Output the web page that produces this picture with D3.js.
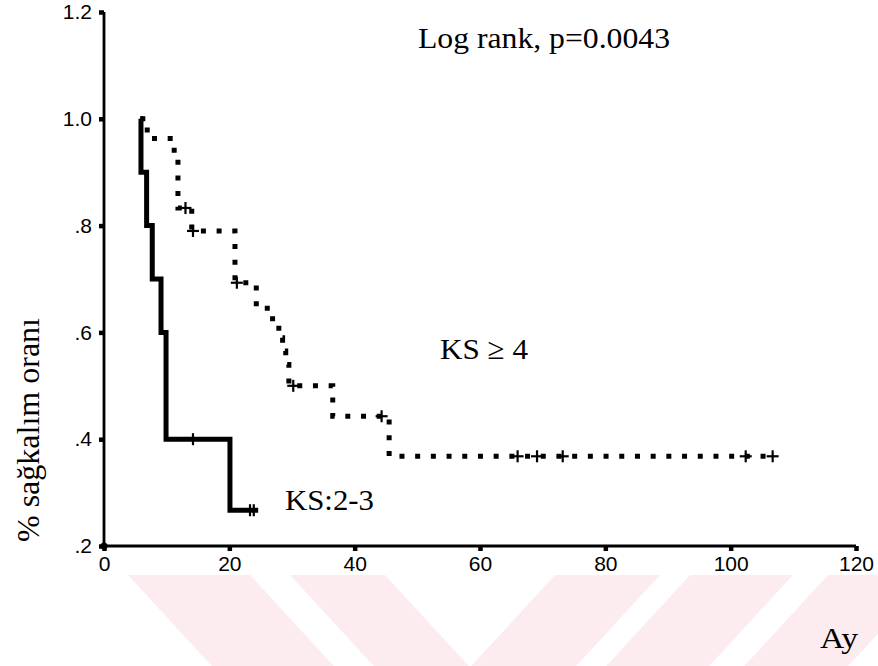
<!DOCTYPE html>
<html>
<head>
<meta charset="utf-8">
<script src="https://cdn.jsdelivr.net/npm/d3@7/dist/d3.min.js"></script>
<style>
  html, body { margin: 0; padding: 0; background: #fff; }
  svg { display: block; }
</style>
</head>
<body>
<script>
// ---------------- DATA ----------------
// KS:2-3 group (solid line): step times (months) and survival after each step
const solidStart = 5.8;
const solidTimes = [5.9, 6.8, 7.7, 9.1, 9.9, 20.1];
const solidSurv  = [0.9, 0.8, 0.7, 0.6, 0.4, 0.267];
const solidEnd = 24.6;
const solidCensored = [14.2, 23.3, 23.9];

// KS >= 4 group (dotted line)
const dotStart = 5.8;
const dotTimes = [6.9, 11.2, 11.8, 14.0, 20.9, 24.3, 26.9, 27.9, 28.5, 29.0, 29.5, 36.5, 45.5];
const dotSurv  = [0.963, 0.926, 0.833, 0.79, 0.693, 0.645, 0.617, 0.59, 0.565, 0.54, 0.50, 0.443, 0.368];
const dotEnd = 107.0;
const dotCensored = [13.0, 14.2, 21.2, 30.2, 44.3, 66.0, 69.1, 73.2, 102.4, 106.7];

const xTicks = [0, 20, 40, 60, 80, 100, 120];
const yTicks = [0.2, 0.4, 0.6, 0.8, 1.0, 1.2];
const yTickLabels = [".2", ".4", ".6", ".8", "1.0", "1.2"];

const yTitle = "% sağkalım oranı";
const xTitle = "Ay";
const testText = "Log rank, p=0.0043";
const labelHigh = "KS ≥ 4";
const labelLow = "KS:2-3";

// ---------------- DRAW ----------------
(function () {
const W = 878, H = 666;
const svg = d3.select("body").append("svg").attr("width", W).attr("height", H);

// watermark background (light pink diagonal bands)
const clip = svg.append("clipPath").attr("id", "wmclip");
clip.append("rect").attr("x", 0).attr("y", 575).attr("width", W).attr("height", H - 575);
const bTop = 575, bBot = H, bdy = bBot - bTop, kk = 0.92;
const leftBands = [[128, 250], [290, 385]];
const rightBands = [[555, 660], [690, 793], [828, 932]];
const bandG = svg.append("g").attr("clip-path", "url(#wmclip)");
leftBands.forEach(([a, b]) => {
  bandG.append("polygon")
    .attr("points", [[a, bTop], [b, bTop], [b + kk * bdy, bBot], [a + kk * bdy, bBot]].map(p => p.join(",")).join(" "))
    .attr("fill", "#fdecef");
});
rightBands.forEach(([a, b]) => {
  bandG.append("polygon")
    .attr("points", [[a, bTop], [b, bTop], [b - kk * bdy, bBot], [a - kk * bdy, bBot]].map(p => p.join(",")).join(" "))
    .attr("fill", "#fdecef");
});

const x = d3.scaleLinear().domain([0, 120]).range([104, 856]);
const y = d3.scaleLinear().domain([0.2, 1.2]).range([546, 12]);

// axes
const xAxis = d3.axisBottom(x).tickValues(xTicks).tickSize(5).tickPadding(5).tickFormat(d3.format("d"));
const gx = svg.append("g").attr("transform", `translate(0,${y(0.2)})`).call(xAxis);
gx.select(".domain").attr("stroke", "#000").attr("stroke-width", 2.8).attr("d", `M${x(0)},0H${x(120)}`);
gx.selectAll(".tick line").attr("stroke", "#000").attr("stroke-width", 4.5);
gx.selectAll(".tick text").attr("font-family", "Liberation Sans, Arial, sans-serif").attr("font-size", 21).attr("fill", "#000");

const yAxis = d3.axisLeft(y).tickValues(yTicks).tickSize(5).tickPadding(7)
  .tickFormat((d, i) => yTickLabels[i]);
const gy = svg.append("g").attr("transform", `translate(${x(0)},0)`).call(yAxis);
gy.select(".domain").attr("stroke", "#000").attr("stroke-width", 2.8).attr("d", `M0,${y(1.2)}V${y(0.2)}`);
gy.selectAll(".tick line").attr("stroke", "#000").attr("stroke-width", 4.5);
gy.selectAll(".tick text").attr("font-family", "Liberation Sans, Arial, sans-serif").attr("font-size", 21).attr("fill", "#000");

// corner dot
svg.append("circle").attr("cx", x(0)).attr("cy", y(0.2)).attr("r", 3.5).attr("fill", "#000");

// KM step path builder
function stepPoints(start, times, surv, end) {
  const pts = [[start, 1.0]];
  let cur = 1.0;
  times.forEach((t, i) => { pts.push([t, cur]); cur = surv[i]; pts.push([t, cur]); });
  pts.push([end, cur]);
  return pts;
}
function survAt(t, times, surv) {
  let s = 1.0;
  times.forEach((tt, i) => { if (tt <= t) s = surv[i]; });
  return s;
}
const line = d3.line().x(d => x(d[0])).y(d => y(d[1]));

// dotted curve
svg.append("path")
  .attr("d", line(stepPoints(dotStart, dotTimes, dotSurv, dotEnd)))
  .attr("fill", "none").attr("stroke", "#000").attr("stroke-width", 5)
  .attr("stroke-dasharray", "5 10.7");

// solid curve
svg.append("path")
  .attr("d", line(stepPoints(solidStart, solidTimes, solidSurv, solidEnd)))
  .attr("fill", "none").attr("stroke", "#000").attr("stroke-width", 5)
  .attr("stroke-linejoin", "miter");

// censor marks
function censor(times, tt, ss, hw) {
  times.forEach(t => {
    const cx = x(t), cy = y(survAt(t, tt, ss));
    svg.append("line").attr("x1", cx).attr("x2", cx).attr("y1", cy - 6).attr("y2", cy + 6)
      .attr("stroke", "#000").attr("stroke-width", 2.2);
    svg.append("line").attr("x1", cx - hw).attr("x2", cx + hw).attr("y1", cy).attr("y2", cy)
      .attr("stroke", "#000").attr("stroke-width", 2.2);
  });
}
censor(dotCensored, dotTimes, dotSurv, 6);
censor(solidCensored, solidTimes, solidSurv, 4);

// texts
const serif = "Liberation Serif, Times New Roman, serif";
svg.append("text").attr("x", 418).attr("y", 48).attr("font-family", serif).attr("font-size", 30)
  .attr("textLength", 252).attr("lengthAdjust", "spacingAndGlyphs").text(testText);
svg.append("text").attr("x", 440).attr("y", 359).attr("font-family", serif).attr("font-size", 30)
  .attr("textLength", 88).attr("lengthAdjust", "spacingAndGlyphs").text(labelHigh);
svg.append("text").attr("x", 285).attr("y", 510).attr("font-family", serif).attr("font-size", 30)
  .attr("textLength", 89).attr("lengthAdjust", "spacingAndGlyphs").text(labelLow);
svg.append("text").attr("x", 820).attr("y", 648).attr("font-family", serif).attr("font-size", 30)
  .attr("textLength", 38).attr("lengthAdjust", "spacingAndGlyphs").text(xTitle);
svg.append("text").attr("transform", "translate(39,430) rotate(-90)").attr("text-anchor", "middle")
  .attr("font-family", serif).attr("font-size", 31)
  .attr("textLength", 224).attr("lengthAdjust", "spacingAndGlyphs").text(yTitle);
})();
</script>
</body>
</html>
